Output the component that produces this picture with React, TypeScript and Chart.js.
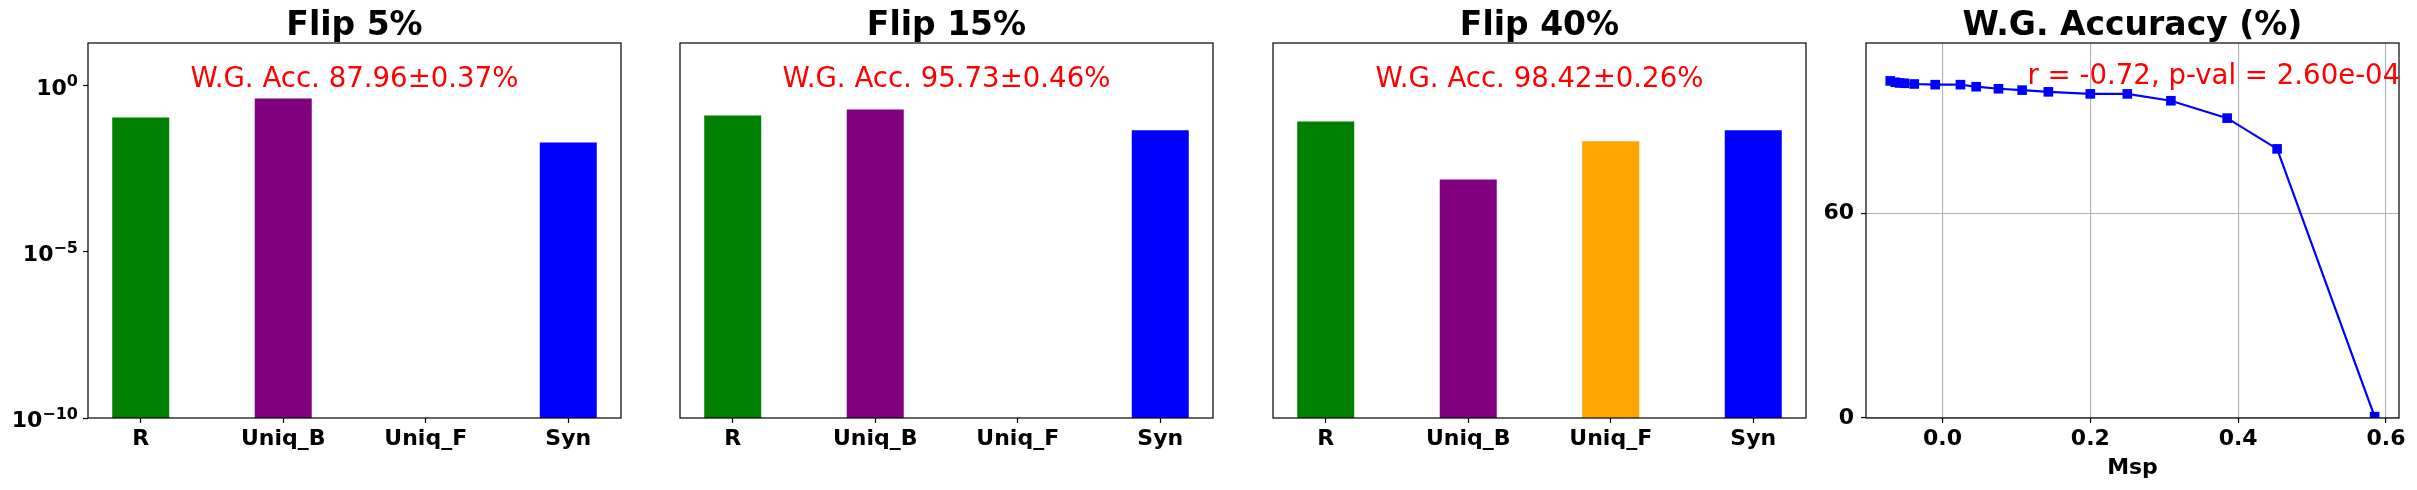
import React, { useEffect, useRef } from 'react';
import { Chart, registerables } from 'chart.js';

Chart.register(...registerables);
Chart.defaults.font.family = '"DejaVu Sans", sans-serif';

// ---------------- data ----------------
const categories = ['R', 'Uniq_B', 'Uniq_F', 'Syn'];
const barColors = ['#008000', '#800080', '#FFA500', '#0000FF'];
const flip5Values = [0.11, 0.41, null, 0.0195];
const flip15Values = [0.126, 0.19, null, 0.045];
const flip40Values = [0.083, 0.0015, 0.021, 0.045];
const panelTitles = ['Flip 5%', 'Flip 15%', 'Flip 40%', 'W.G. Accuracy (%)'];
const accNotes = ['W.G. Acc. 87.96±0.37%', 'W.G. Acc. 95.73±0.46%', 'W.G. Acc. 98.42±0.26%'];
const logTicks = [1e-10, 1e-5, 1];
const logTickExponents = ['\u221210', '\u22125', '0'];
const logMin = 1e-10;
const logMax = 19.1;

const mspValues = [-0.0707, -0.0639, -0.0581, -0.0514, -0.0382, -0.0099, 0.0243, 0.0455, 0.0757, 0.1077, 0.1432, 0.2, 0.25, 0.309, 0.3851, 0.4527, 0.5846];
const wgAccValues = [98.7, 98.3, 98.1, 98.0, 97.8, 97.6, 97.6, 97.0, 96.4, 96.0, 95.5, 94.9, 94.9, 92.9, 87.8, 78.8, 0.4];
const accTicks = [0, 60];
const mspTicks = [0, 0.2, 0.4, 0.6];
const corrNote = 'r = -0.72, p-val = 2.60e-04';
const xAxisTitle = 'Msp';

// ---------------- plugin ----------------
const framePlugin = {
  id: 'frame',
  afterDraw(chart: any, _args: any, opts: any) {
    const { ctx, chartArea: a } = chart;
    ctx.save();
    ctx.strokeStyle = '#000';
    ctx.lineWidth = 1.2;
    ctx.strokeRect(a.left, a.top, a.right - a.left, a.bottom - a.top);

    ctx.fillStyle = '#000';
    ctx.textBaseline = 'alphabetic';
    ctx.textAlign = 'center';
    ctx.font = 'bold 33px "DejaVu Sans"';
    ctx.fillText(opts.title, (a.left + a.right) / 2, 35);

    if (opts.note) {
      ctx.fillStyle = '#FF0000';
      ctx.font = '27.6px "DejaVu Sans"';
      if (opts.noteX !== undefined) {
        ctx.textAlign = 'left';
        const px = chart.scales.x.getPixelForValue(opts.noteX);
        const py = chart.scales.y.getPixelForValue(opts.noteY);
        ctx.fillText(opts.note, px, py);
      } else {
        ctx.textAlign = 'center';
        ctx.fillText(opts.note, (a.left + a.right) / 2, 87.3);
      }
    }

    if (opts.xTitle) {
      ctx.fillStyle = '#000';
      ctx.textAlign = 'center';
      ctx.font = 'bold 22px "DejaVu Sans"';
      ctx.fillText(opts.xTitle, (a.left + a.right) / 2, 473.5);
    }

    if (opts.logLabels) {
      const ys = chart.scales.y;
      ctx.fillStyle = '#000';
      ctx.textAlign = 'left';
      logTicks.forEach((v, i) => {
        const py = ys.getPixelForValue(v);
        const exp = logTickExponents[i];
        ctx.font = 'bold 16px "DejaVu Sans"';
        const ew = ctx.measureText(exp).width;
        ctx.font = 'bold 22px "DejaVu Sans"';
        const bw = ctx.measureText('10').width;
        const right = a.left - 10;
        ctx.fillText('10', right - ew - bw, py + 9);
        ctx.font = 'bold 16px "DejaVu Sans"';
        ctx.fillText(exp, right - ew, py + 0.8);
      });
    }
    ctx.restore();
  },
};

const tickFont = { family: '"DejaVu Sans"', size: 22, weight: 'bold' as const };

function barConfig(values: (number | null)[], idx: number, showY: boolean, padLeft: number, padRight: number) {
  return {
    type: 'bar',
    data: {
      datasets: [
        {
          data: values.map((v, i) => ({ x: i, y: v })),
          backgroundColor: barColors,
          barPercentage: 0.4,
          categoryPercentage: 1.0,
          borderWidth: 0,
        },
      ],
    },
    plugins: [framePlugin],
    options: {
      animation: false,
      responsive: false,
      layout: { padding: { top: 43, left: padLeft, right: padRight, bottom: 0 } },
      plugins: {
        legend: { display: false },
        tooltip: { enabled: false },
        title: { display: false },
        frame: { title: panelTitles[idx], note: accNotes[idx], logLabels: showY },
      },
      scales: {
        x: {
          type: 'linear',
          min: -0.37,
          max: 3.37,
          offset: false,
          afterBuildTicks: (s: any) => {
            s.ticks = categories.map((_, i) => ({ value: i }));
          },
          afterFit: (s: any) => {
            s.height = 72;
          },
          ticks: {
            autoSkip: false,
            maxRotation: 0,
            padding: 3,
            color: '#000',
            font: tickFont,
            callback: (v: any) => categories[Math.round(v)] ?? '',
          },
          grid: {
            display: true,
            drawOnChartArea: false,
            drawTicks: true,
            tickLength: 5,
            tickColor: '#000',
            tickWidth: 1.2,
            offset: false,
          },
          border: { display: false },
        },
        y: {
          type: 'logarithmic',
          display: showY,
          min: logMin,
          max: logMax,
          afterBuildTicks: (s: any) => {
            s.ticks = logTicks.map((v) => ({ value: v }));
          },
          afterFit: (s: any) => {
            s.width = showY ? 88 : 0;
          },
          ticks: { display: false },
          grid: {
            display: true,
            drawOnChartArea: false,
            drawTicks: true,
            tickLength: 5,
            tickColor: '#000',
            tickWidth: 1.2,
          },
          border: { display: false },
        },
      },
    },
  };
}

function lineConfig() {
  return {
    type: 'line',
    data: {
      datasets: [
        {
          data: mspValues.map((x, i) => ({ x, y: wgAccValues[i] })),
          borderColor: '#0000FF',
          backgroundColor: '#0000FF',
          borderWidth: 2.2,
          pointStyle: 'rect',
          pointRadius: 6.8,
          pointBorderWidth: 0,
          pointBackgroundColor: '#0000FF',
          tension: 0,
          clip: 0,
        },
      ],
    },
    plugins: [framePlugin],
    options: {
      animation: false,
      responsive: false,
      layout: { padding: { top: 43, left: 0, right: 18, bottom: 0 } },
      plugins: {
        legend: { display: false },
        tooltip: { enabled: false },
        title: { display: false },
        frame: { title: panelTitles[3], note: corrNote, noteX: 0.115, noteY: 97.75, xTitle: xAxisTitle },
      },
      scales: {
        x: {
          type: 'linear',
          min: -0.1035,
          max: 0.6176,
          afterBuildTicks: (s: any) => {
            s.ticks = mspTicks.map((v) => ({ value: v }));
          },
          afterFit: (s: any) => {
            s.height = 72;
          },
          ticks: {
            autoSkip: false,
            maxRotation: 0,
            padding: 3,
            color: '#000',
            font: tickFont,
            callback: (v: any) => Number(v).toFixed(1),
          },
          grid: {
            display: true,
            color: '#b0b0b0',
            lineWidth: 1.1,
            drawTicks: true,
            tickLength: 5,
            tickColor: '#000',
            tickWidth: 1.2,
          },
          border: { display: false },
        },
        y: {
          type: 'linear',
          min: 0,
          max: 109.8,
          afterBuildTicks: (s: any) => {
            s.ticks = accTicks.map((v) => ({ value: v }));
          },
          afterFit: (s: any) => {
            s.width = 53;
          },
          ticks: {
            padding: 7,
            color: '#000',
            font: tickFont,
          },
          grid: {
            display: true,
            color: '#b0b0b0',
            lineWidth: 1.1,
            drawTicks: true,
            tickLength: 5,
            tickColor: '#000',
            tickWidth: 1.2,
          },
          border: { display: false },
        },
      },
    },
  };
}

const panels = [
  { left: 0, width: 630, make: () => barConfig(flip5Values, 0, true, 0, 9) },
  { left: 630, width: 590, make: () => barConfig(flip15Values, 1, false, 50, 7) },
  { left: 1220, width: 593, make: () => barConfig(flip40Values, 2, false, 53, 7) },
  { left: 1813, width: 604, make: () => lineConfig() },
];

function Panel({ left, width, make }: { left: number; width: number; make: () => any }) {
  const ref = useRef<HTMLCanvasElement>(null);
  useEffect(() => {
    if (!ref.current) return;
    const chart = new Chart(ref.current, make());
    return () => chart.destroy();
  }, []);
  return (
    <div style={{ position: 'absolute', left, top: 0, width, height: 490 }}>
      <canvas ref={ref} width={width} height={490} style={{ width, height: 490, display: 'block' }} />
    </div>
  );
}

export default function App() {
  return (
    <div style={{ position: 'absolute', left: 0, top: 0, width: 2417, height: 490, background: '#fff' }}>
      {panels.map((p, i) => (
        <Panel key={i} left={p.left} width={p.width} make={p.make} />
      ))}
    </div>
  );
}
